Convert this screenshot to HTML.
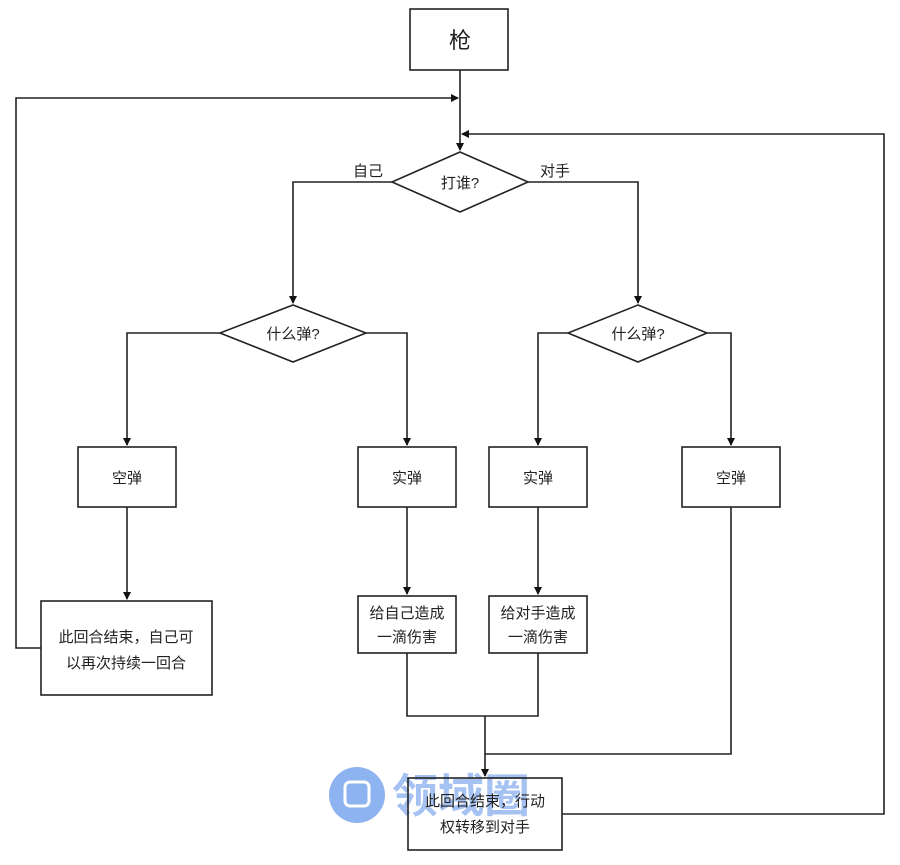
<!DOCTYPE html>
<html><head><meta charset="utf-8"><style>
html,body{margin:0;padding:0;background:#fff;}
svg text{font-family:"Liberation Sans","Noto Sans CJK SC",sans-serif;fill:#222;}
</style></head><body>
<svg width="900" height="860" viewBox="0 0 900 860" xmlns="http://www.w3.org/2000/svg">
<defs><marker id="a" markerWidth="8" markerHeight="8" refX="7" refY="4" orient="auto" markerUnits="userSpaceOnUse"><path d="M0,0 L8,4 L0,8 z" fill="#111"/></marker></defs>
<rect width="900" height="860" fill="#fff"/>
<!-- watermark logo -->
<circle cx="357" cy="795" r="28" fill="#7aa6ee" opacity="0.85"/>
<rect x="345" y="782" width="24" height="24" rx="5" fill="none" stroke="#fff" stroke-width="3"/>
<text x="392" y="812" font-size="46" font-weight="bold" style="fill:#8fb4f0" opacity="0.8">领域圈</text>
<g stroke="#222" stroke-width="1.6" fill="none">
<rect x="410" y="9" width="98" height="61"/>
<line x1="460" y1="70" x2="460" y2="150" marker-end="url(#a)"/>
<polyline points="41,648 16,648 16,98 458,98" marker-end="url(#a)"/>
<polyline points="562,814 884,814 884,134 462,134" marker-end="url(#a)"/>
<polygon points="460,152 528,182 460,212 392,182" fill="#fff"/>
<polyline points="392,182 293,182 293,303" marker-end="url(#a)"/>
<polyline points="528,182 638,182 638,303" marker-end="url(#a)"/>
<polygon points="293,305 366,333 293,362 220,333" fill="#fff"/>
<polygon points="638,305 707,333 638,362 568,333" fill="#fff"/>
<polyline points="220,333 127,333 127,445" marker-end="url(#a)"/>
<polyline points="366,333 407,333 407,445" marker-end="url(#a)"/>
<polyline points="568,333 538,333 538,445" marker-end="url(#a)"/>
<polyline points="707,333 731,333 731,445" marker-end="url(#a)"/>
<rect x="78" y="447" width="98" height="60"/>
<rect x="358" y="447" width="98" height="60"/>
<rect x="489" y="447" width="98" height="60"/>
<rect x="682" y="447" width="98" height="60"/>
<line x1="127" y1="507" x2="127" y2="599" marker-end="url(#a)"/>
<line x1="407" y1="507" x2="407" y2="594" marker-end="url(#a)"/>
<line x1="538" y1="507" x2="538" y2="594" marker-end="url(#a)"/>
<rect x="41" y="601" width="171" height="94"/>
<rect x="358" y="596" width="98" height="57"/>
<rect x="489" y="596" width="98" height="57"/>
<polyline points="407,653 407,716 538,716 538,653"/>
<line x1="485" y1="716" x2="485" y2="776" marker-end="url(#a)"/>
<polyline points="731,507 731,754 485,754"/>
<rect x="408" y="778" width="154" height="72"/>
</g>
<g text-anchor="middle">
<text x="460" y="48" font-size="22">枪</text>
<text x="460" y="188" font-size="15">打谁?</text>
<text x="368" y="176" font-size="15">自己</text>
<text x="555" y="176" font-size="15">对手</text>
<text x="293" y="339" font-size="15">什么弹?</text>
<text x="638" y="339" font-size="15">什么弹?</text>
<text x="127" y="483" font-size="15">空弹</text>
<text x="407" y="483" font-size="15">实弹</text>
<text x="538" y="483" font-size="15">实弹</text>
<text x="731" y="483" font-size="15">空弹</text>
<text x="407" y="618" font-size="15">给自己造成</text>
<text x="407" y="642" font-size="15">一滴伤害</text>
<text x="538" y="618" font-size="15">给对手造成</text>
<text x="538" y="642" font-size="15">一滴伤害</text>
<text x="126" y="642" font-size="15">此回合结束，自己可</text>
<text x="126" y="668" font-size="15">以再次持续一回合</text>
<text x="485" y="806" font-size="15">此回合结束，行动</text>
<text x="485" y="832" font-size="15">权转移到对手</text>
</g>
</svg>
</body></html>
